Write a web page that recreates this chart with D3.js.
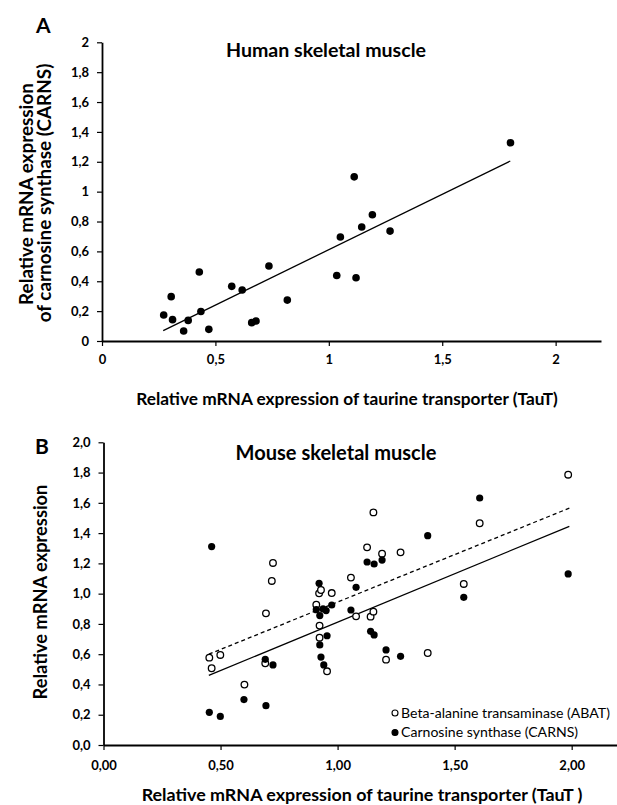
<!DOCTYPE html>
<html>
<head>
<meta charset="utf-8">
<script src="https://cdn.jsdelivr.net/npm/d3@7"></script>
<style>
  body { margin: 0; background: #fff; }
  svg { display: block; font-family: "Lato", "DejaVu Sans", sans-serif; }
  .tick text { font-weight: bold; }
</style>
</head>
<body>
<svg id="chart" width="617" height="805"></svg>
<script>
// ---- panel A : human skeletal muscle ----
var humanTaut  = [0.272, 0.305, 0.311, 0.360, 0.380, 0.429, 0.436, 0.471, 0.572, 0.618, 0.660,
                  0.679, 0.736, 0.817, 1.035, 1.051, 1.112, 1.120, 1.145, 1.192, 1.270, 1.801];
var humanCarns = [0.174, 0.297, 0.143, 0.067, 0.138, 0.462, 0.198, 0.078, 0.366, 0.341, 0.123,
                  0.134, 0.502, 0.274, 0.439, 0.696, 1.099, 0.424, 0.763, 0.845, 0.736, 1.327];
var humanFitX = [0.27, 1.80];
var humanFitY = [0.07, 1.205];
var aXTicks = [0, 0.5, 1, 1.5, 2];
var aXLabels = ["0", "0,5", "1", "1,5", "2"];
var aYTicks = [0, 0.2, 0.4, 0.6, 0.8, 1, 1.2, 1.4, 1.6, 1.8, 2];
var aYLabels = ["0", "0,2", "0,4", "0,6", "0,8", "1", "1,2", "1,4", "1,6", "1,8", "2"];

// ---- panel B : mouse skeletal muscle ----
var abatTaut = [0.452, 0.462, 0.499, 0.602, 0.694, 0.691, 0.719, 0.724, 0.909, 0.921, 0.929, 0.975, 0.923, 0.923,
                0.955, 1.057, 1.079, 1.141, 1.153, 1.153, 1.126, 1.190, 1.269, 1.207, 1.385, 1.539, 1.607, 1.985];
var abatExpr = [0.577, 0.507, 0.595, 0.399, 0.870, 0.540, 1.084, 1.203, 0.927, 1.002, 1.024, 1.004, 0.789, 0.709,
                0.487, 1.106, 0.850, 0.848, 0.881, 1.537, 1.306, 1.264, 1.273, 0.564, 0.608, 1.064, 1.465, 1.786];
var carnsTaut = [0.462, 0.452, 0.499, 0.600, 0.694, 0.691, 0.724, 0.921, 0.909, 0.924, 0.938, 0.951, 0.975, 0.924, 0.929,
                 0.941, 0.955, 1.057, 1.079, 1.126, 1.156, 1.190, 1.141, 1.156, 1.207, 1.269, 1.385, 1.539, 1.607, 1.985];
var carnsExpr = [1.311, 0.216, 0.189, 0.300, 0.260, 0.566, 0.529, 1.068, 0.894, 0.855, 0.899, 0.888, 0.925, 0.661, 0.581,
                 0.529, 0.722, 0.892, 1.042, 1.209, 1.196, 1.222, 0.751, 0.727, 0.628, 0.586, 1.383, 0.976, 1.632, 1.130];
var abatFitX = [0.45, 1.99];
var abatFitY = [0.60, 1.565];
var carnsFitX = [0.45, 1.99];
var carnsFitY = [0.46, 1.445];
var bXTicks = [0, 0.5, 1, 1.5, 2];
var bXLabels = ["0,00", "0,50", "1,00", "1,50", "2,00"];
var bYTicks = [0, 0.2, 0.4, 0.6, 0.8, 1, 1.2, 1.4, 1.6, 1.8, 2];
var bYLabels = ["0,0", "0,2", "0,4", "0,6", "0,8", "1,0", "1,2", "1,4", "1,6", "1,8", "2,0"];
var legendNames = ["Beta-alanine transaminase  (ABAT)", "Carnosine synthase  (CARNS)"];

var svg = d3.select("#chart");

function zip(xs, ys) { return xs.map((v, i) => [v, ys[i]]); }

// scale the font so the text takes the width it has in the figure
function fitWidth(sel, w) {
	var fs = +sel.attr("font-size");
	var len = sel.node().getComputedTextLength();
	if (len > 0) sel.attr("font-size", (fs * w / len).toFixed(2));
	return +sel.attr("font-size");
}

function drawAxes(x, y, xt, xl, yt, yl, xpad) {
	var gx = svg.append("g")
		.attr("transform", "translate(0," + y(0) + ")")
		.call(d3.axisBottom(x).tickValues(xt).tickFormat((d, i) => xl[i]).tickSize(5).tickPadding(xpad).tickSizeOuter(0));
	var gy = svg.append("g")
		.attr("transform", "translate(" + x(0) + ",0)")
		.call(d3.axisLeft(y).tickValues(yt).tickFormat((d, i) => yl[i]).tickSize(5).tickPadding(8).tickSizeOuter(0));
	[gx, gy].forEach(g => {
		g.select(".domain").attr("stroke", "#000").attr("stroke-width", 1.8);
		g.selectAll(".tick line").attr("stroke", "#000").attr("stroke-width", 1.2);
		g.selectAll(".tick text").attr("fill", "#000").attr("font-size", 13).attr("font-family", "Lato");
	});
}

// ---------- Panel A ----------
var xA = d3.scaleLinear().domain([0, 2.2]).range([102, 601]);
var yA = d3.scaleLinear().domain([0, 2]).range([341, 42.3]);
drawAxes(xA, yA, aXTicks, aXLabels, aYTicks, aYLabels, 9);

svg.append("path")
	.datum(zip(humanFitX, humanFitY))
	.attr("d", d3.line().x(d => xA(d[0])).y(d => yA(d[1])))
	.attr("fill", "none").attr("stroke", "#000").attr("stroke-width", 1.3);

svg.append("g").selectAll("circle")
	.data(zip(humanTaut, humanCarns))
	.join("circle")
	.attr("cx", d => xA(d[0]))
	.attr("cy", d => yA(d[1]))
	.attr("r", 3.8)
	.attr("fill", "#000");

svg.append("text").attr("x", 36).attr("y", 33)
	.attr("font-size", 21).attr("font-weight", "bold").text("A");
var titleA = svg.append("text").attr("x", 326).attr("y", 57).attr("text-anchor", "middle")
	.attr("font-size", 17).attr("font-weight", "bold").text("Human skeletal muscle");
fitWidth(titleA, 200);
var yl1 = svg.append("text")
	.attr("transform", "translate(33,194) rotate(-90)")
	.attr("text-anchor", "middle").attr("font-size", 16).attr("font-weight", "bold")
	.text("Relative mRNA  expression");
var fsY = fitWidth(yl1, 222);
svg.append("text")
	.attr("transform", "translate(51,193) rotate(-90)")
	.attr("text-anchor", "middle").attr("font-size", fsY).attr("font-weight", "bold")
	.text("of carnosine synthase (CARNS)");
var xlabA = svg.append("text").attr("x", 347).attr("y", 405).attr("text-anchor", "middle")
	.attr("font-size", 16).attr("font-weight", "bold")
	.text("Relative mRNA  expression of taurine transporter (TauT)");
fitWidth(xlabA, 422);

// ---------- Panel B ----------
var xB = d3.scaleLinear().domain([0, 2.2]).range([103.5, 618.5]);
var yB = d3.scaleLinear().domain([0, 2]).range([745, 442.3]);
drawAxes(xB, yB, bXTicks, bXLabels, bYTicks, bYLabels, 11);

svg.append("path")
	.datum(zip(abatFitX, abatFitY))
	.attr("d", d3.line().x(d => xB(d[0])).y(d => yB(d[1])))
	.attr("fill", "none").attr("stroke", "#000").attr("stroke-width", 1.3)
	.attr("stroke-dasharray", "4,3");
svg.append("path")
	.datum(zip(carnsFitX, carnsFitY))
	.attr("d", d3.line().x(d => xB(d[0])).y(d => yB(d[1])))
	.attr("fill", "none").attr("stroke", "#000").attr("stroke-width", 1.3);

svg.append("g").selectAll("circle")
	.data(zip(abatTaut, abatExpr))
	.join("circle")
	.attr("cx", d => xB(d[0]))
	.attr("cy", d => yB(d[1]))
	.attr("r", 3.3)
	.attr("fill", "#fff").attr("stroke", "#000").attr("stroke-width", 1.3);
svg.append("g").selectAll("circle")
	.data(zip(carnsTaut, carnsExpr))
	.join("circle")
	.attr("cx", d => xB(d[0]))
	.attr("cy", d => yB(d[1]))
	.attr("r", 3.6)
	.attr("fill", "#000");

// legend
var leg = svg.append("g").selectAll("g")
	.data(legendNames)
	.join("g")
	.attr("transform", (d, i) => "translate(395," + (713 + i * 19.5) + ")");
leg.append("circle").attr("r", 3)
	.attr("fill", (d, i) => i ? "#000" : "#fff")
	.attr("stroke", "#000").attr("stroke-width", 1.1);
var legText = leg.append("text").attr("x", 6).attr("dy", "0.35em")
	.attr("font-size", 13).text(d => d);
var fsLeg = fitWidth(d3.select(legText.nodes()[0]), 209);
legText.attr("font-size", fsLeg);

svg.append("text").attr("x", 35).attr("y", 454)
	.attr("font-size", 21).attr("font-weight", "bold").text("B");
var titleB = svg.append("text").attr("x", 336).attr("y", 460).attr("text-anchor", "middle")
	.attr("font-size", 17).attr("font-weight", "bold").text("Mouse skeletal muscle");
fitWidth(titleB, 201);
var ylB = svg.append("text")
	.attr("transform", "translate(47,592) rotate(-90)")
	.attr("text-anchor", "middle").attr("font-size", 16).attr("font-weight", "bold")
	.text("Relative mRNA  expression");
fitWidth(ylB, 215);
var xlabB = svg.append("text").attr("x", 362).attr("y", 801).attr("text-anchor", "middle")
	.attr("font-size", 16).attr("font-weight", "bold")
	.text("Relative mRNA  expression of taurine transporter (TauT )");
fitWidth(xlabB, 441);
</script>
</body>
</html>
